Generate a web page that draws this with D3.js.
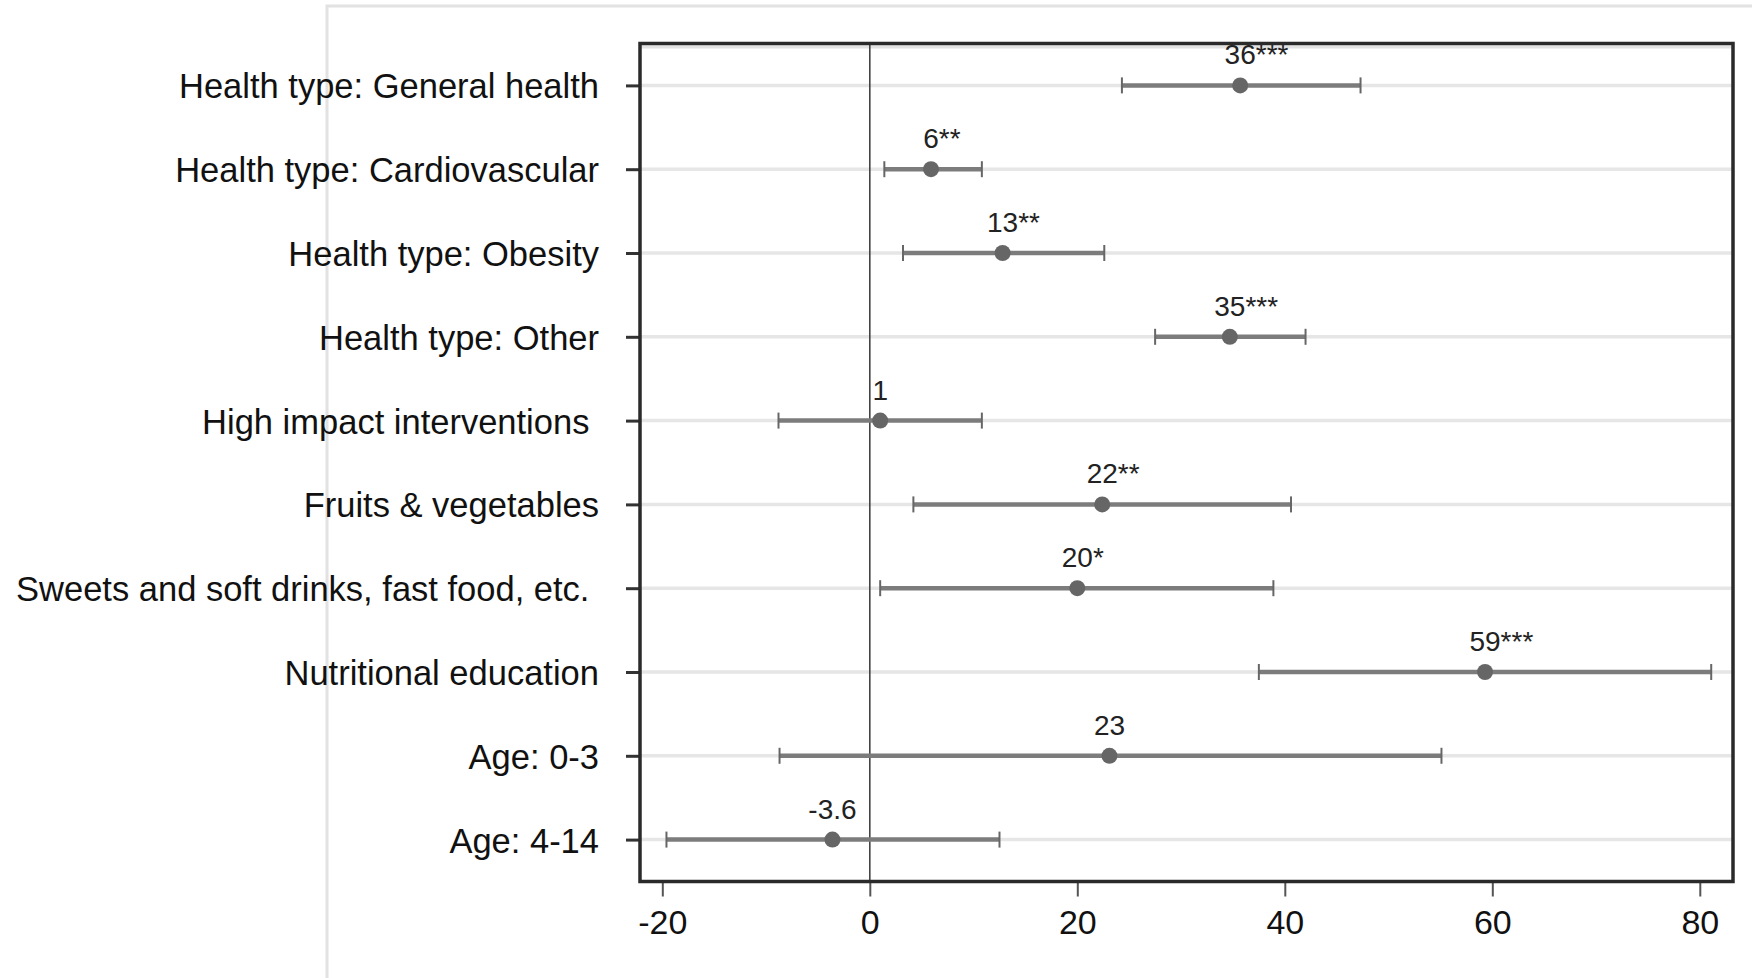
<!DOCTYPE html>
<html>
<head>
<meta charset="utf-8">
<script src="https://cdn.jsdelivr.net/npm/d3@7/dist/d3.min.js"></script>
<style>
  html, body { margin: 0; padding: 0; background: #fff; }
  svg { display: block; }
  text { font-family: "Liberation Sans", Arial, sans-serif; white-space: pre; }
</style>
</head>
<body>
<svg id="chart" width="1752" height="978"></svg>
<script>
// ---- data ----
const categories = [
  "Health type: General health",
  "Health type: Cardiovascular",
  "Health type: Obesity",
  "Health type: Other",
  "High impact interventions ",
  "Fruits & vegetables",
  "Sweets and soft drinks, fast food, etc. ",
  "Nutritional education",
  "Age: 0-3",
  "Age: 4-14"
];
const estimates = [35.7, 5.9, 12.8, 34.7, 1.0, 22.4, 20.0, 59.3, 23.1, -3.6];
const ciLow     = [24.3, 1.4, 3.2, 27.5, -8.8, 4.2, 1.0, 37.5, -8.7, -19.6];
const ciHigh    = [47.3, 10.8, 22.6, 42.0, 10.8, 40.6, 38.9, 81.1, 55.1, 12.5];
const labelNums = ["36", "6", "13", "35", "1", "22", "20", "59", "23", "-3.6"];
const labelStars = ["***", "**", "**", "***", "", "**", "*", "***", "", ""];
const xTicks = [-20, 0, 20, 40, 60, 80];
const xDomain = [-22.15, 83.2];

// ---- layout ----
const svg = d3.select("#chart");
const L = 640, R = 1733, T = 43.5, B = 881.5;

const x = d3.scaleLinear().domain(xDomain).range([L, R]);
const y = d3.scalePoint().domain(categories).range([T, B]).padding(0.5);

const rows = categories.map((c, i) => ({
  cat: c, est: estimates[i], lo: ciLow[i], hi: ciHigh[i],
  num: labelNums[i], stars: labelStars[i]
}));

// outer light graph-region frame
svg.append("rect")
  .attr("x", 327).attr("y", 6).attr("width", 1500).attr("height", 1000)
  .attr("fill", "none").attr("stroke", "#e2e2e2").attr("stroke-width", 3);

// gridlines
svg.append("g").selectAll("line").data(categories).join("line")
  .attr("x1", L).attr("x2", R)
  .attr("y1", d => y(d)).attr("y2", d => y(d))
  .attr("stroke", "#e6e6e6").attr("stroke-width", 3.5);
svg.append("line")
  .attr("x1", L).attr("x2", R).attr("y1", T + 3.5).attr("y2", T + 3.5)
  .attr("stroke", "#e2e2e2").attr("stroke-width", 3);

// zero line
svg.append("line")
  .attr("x1", x(0)).attr("x2", x(0)).attr("y1", T).attr("y2", B)
  .attr("stroke", "#444").attr("stroke-width", 1.6);

// x axis
const xAxis = svg.append("g")
  .attr("transform", `translate(0,${B})`)
  .call(d3.axisBottom(x).tickValues(xTicks).tickSize(15).tickPadding(13).tickFormat(d3.format("d")));
xAxis.select(".domain").remove();
xAxis.selectAll(".tick line").attr("stroke", "#555").attr("stroke-width", 2);
xAxis.selectAll(".tick text")
  .attr("font-size", 34).attr("fill", "#111")
  .style("font-family", '"Liberation Sans", Arial, sans-serif')
  .text(d => d3.format("d")(d).replace("\u2212", "-"));

// y axis
const yAxis = svg.append("g")
  .attr("transform", `translate(${L},0)`)
  .call(d3.axisLeft(y).tickSize(14).tickPadding(27));
yAxis.select(".domain").remove();
yAxis.selectAll(".tick line").attr("stroke", "#333").attr("stroke-width", 3);
yAxis.selectAll(".tick text")
  .attr("font-size", 34.5).attr("fill", "#111").attr("dy", "0.36em")
  .style("font-family", '"Liberation Sans", Arial, sans-serif');

// CI bars
const g = svg.append("g");
g.selectAll("line.ci").data(rows).join("line").attr("class", "ci")
  .attr("x1", d => x(d.lo)).attr("x2", d => x(d.hi))
  .attr("y1", d => y(d.cat)).attr("y2", d => y(d.cat))
  .attr("stroke", "#7c7c7c").attr("stroke-width", 4.5);
g.selectAll("line.caplo").data(rows).join("line").attr("class", "caplo")
  .attr("x1", d => x(d.lo)).attr("x2", d => x(d.lo))
  .attr("y1", d => y(d.cat) - 8).attr("y2", d => y(d.cat) + 8)
  .attr("stroke", "#666").attr("stroke-width", 2);
g.selectAll("line.caphi").data(rows).join("line").attr("class", "caphi")
  .attr("x1", d => x(d.hi)).attr("x2", d => x(d.hi))
  .attr("y1", d => y(d.cat) - 8).attr("y2", d => y(d.cat) + 8)
  .attr("stroke", "#666").attr("stroke-width", 2);
g.selectAll("circle").data(rows).join("circle")
  .attr("cx", d => x(d.est)).attr("cy", d => y(d.cat)).attr("r", 8)
  .attr("fill", "#666");

// data labels (number centred on point, stars trailing)
const lab = svg.append("g");
rows.forEach(d => {
  const t = lab.append("text")
    .attr("x", x(d.est)).attr("y", y(d.cat) - 21)
    .attr("text-anchor", "middle").attr("font-size", 28).attr("fill", "#222")
    .text(d.num);
  if (d.stars) {
    const w = t.node().getComputedTextLength();
    lab.append("text")
      .attr("x", x(d.est) + w / 2).attr("y", y(d.cat) - 21)
      .attr("text-anchor", "start").attr("font-size", 28).attr("fill", "#222")
      .text(d.stars);
  }
});

// plot frame
svg.append("rect")
  .attr("x", L).attr("y", T).attr("width", R - L).attr("height", B - T)
  .attr("fill", "none").attr("stroke", "#2a2a2a").attr("stroke-width", 3.5);
</script>
</body>
</html>
